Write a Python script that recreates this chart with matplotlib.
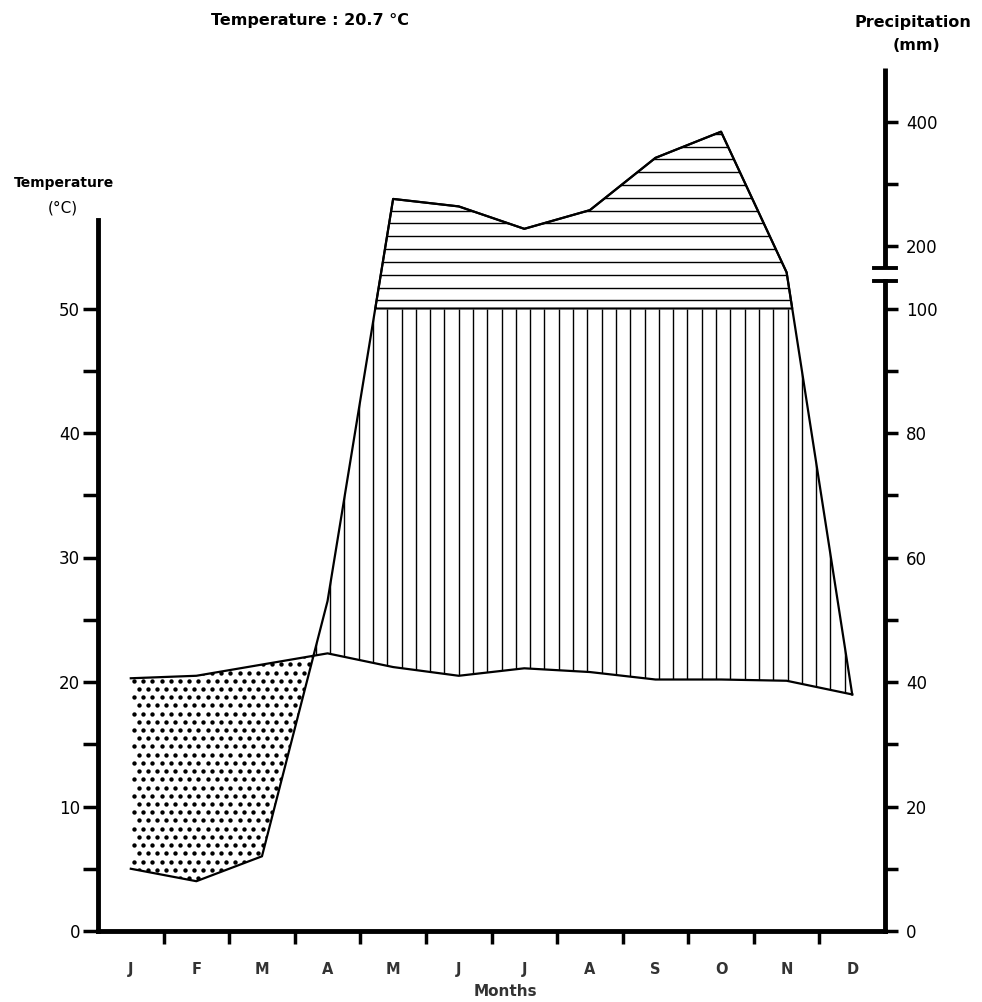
# Climate diagram (Walter-Lieth style): monthly temperature and precipitation
import numpy as np
import matplotlib
matplotlib.use('Agg')
import matplotlib.pyplot as plt

months = ['J', 'F', 'M', 'A', 'M', 'J', 'J', 'A', 'S', 'O', 'N', 'D']
temperature = [20.3, 20.5, 21.4, 22.3, 21.2, 20.5, 21.1, 20.8, 20.2, 20.2, 20.1, 19.0]
precipitation = [10, 8, 12, 53, 276, 264, 228, 258, 342, 384, 158, 38]
temp_ticks = [0, 10, 20, 30, 40, 50]
temp_minor = [5, 15, 25, 35, 45]
prec_ticks = [0, 20, 40, 60, 80, 100, 200, 400]
prec_minor = [10, 30, 50, 70, 90, 300]
mean_temp = '20.7'


def prec_to_temp(p):
    # 20 mm = 10 C up to 100 mm, above that 100 mm = 5 C
    p = np.asarray(p, dtype=float)
    return np.where(p <= 100, p / 2.0, 50 + (p - 100) / 20.0)


fig = plt.figure(figsize=(9.82, 10.02), dpi=100)
ax = fig.add_axes([98 / 982, 71 / 1002, 787 / 982, 871.5 / 1002])
ax.set_xlim(0, 12)
ax.set_ylim(0, 70)

xm = np.arange(12) + 0.5
prec_t = prec_to_temp(precipitation)

# fine grid to build the shaded areas
xf = np.linspace(0.5, 11.5, 2201)
tf = np.interp(xf, xm, temperature)
pf = np.interp(xf, xm, prec_t)

dry = ax.fill_between(xf, pf, tf, where=tf > pf, interpolate=True,
                      facecolor='none', edgecolor='none')
wet = ax.fill_between(xf, tf, np.minimum(pf, 50), where=pf > tf, interpolate=True,
                      facecolor='none', edgecolor='none')
very_wet = ax.fill_between(xf, 50, pf, where=pf > 50, interpolate=True,
                           facecolor='none', edgecolor='k', linewidth=1.5)

# dotted dry season
dx, dy = 0.14, 0.66
pts_x, pts_y = [], []
for i, yy in enumerate(np.arange(0.3, 26, dy)):
    off = dx / 2 if i % 2 else 0
    for xx in np.arange(0.55 + off, 3.6, dx):
        pts_x.append(xx)
        pts_y.append(yy)
dots = ax.scatter(pts_x, pts_y, s=10, color='k', linewidths=0)
dots.set_clip_path(dry.get_paths()[0], ax.transData)

# vertical hatching for the humid season
vl = ax.vlines(np.arange(0.05, 12, 0.218), 0, 50, color='k', linewidth=1.0)
vl.set_clip_path(wet.get_paths()[0], ax.transData)

# horizontal hatching above 100 mm
hl = ax.hlines(np.arange(50.65, 70, 1.03), 0, 12, color='k', linewidth=1.0)
hl.set_clip_path(very_wet.get_paths()[0], ax.transData)

ax.plot(xm, temperature, color='k', linewidth=1.6)
ax.plot(xm, prec_t, color='k', linewidth=1.6)

# left (temperature) axis
ax.spines['top'].set_visible(False)
ax.spines['right'].set_visible(False)
ax.spines['left'].set_bounds(0, 57.1)
for s in ['left', 'bottom']:
    ax.spines[s].set_linewidth(3.5)
    ax.spines[s].set_capstyle('projecting')

ax.set_yticks(temp_ticks)
ax.set_yticks(temp_minor, minor=True)
ax.tick_params(axis='y', which='both', direction='out', length=11, width=2.5,
               labelsize=12, pad=2)

ax.set_xticks(range(1, 12))
ax.set_xticklabels([])
ax.set_xticks(xm, minor=True)
ax.set_xticklabels(months, minor=True)
ax.tick_params(axis='x', which='major', direction='out', length=9, width=2.5)
ax.tick_params(axis='x', which='minor', length=0, pad=22, labelsize=10.5,
               labelcolor='#333333')
for lab in ax.get_xticklabels(minor=True):
    lab.set_fontweight('bold')

# right (precipitation) axis
ax2 = ax.twinx()
ax2.set_ylim(0, 70)
for s in ['top', 'left', 'bottom']:
    ax2.spines[s].set_visible(False)
ax2.spines['right'].set_bounds(0, 52.2)
ax2.spines['right'].set_linewidth(3.5)
ax2.set_yticks(prec_to_temp(prec_ticks))
ax2.set_yticklabels([str(p) for p in prec_ticks])
ax2.set_yticks(prec_to_temp(prec_minor), minor=True)
ax2.tick_params(axis='y', which='both', direction='out', length=9, width=2.5,
                labelsize=12, pad=6)

# upper part of the broken axis and the break marks
ax.plot([12, 12], [53.25, 69.3], color='k', linewidth=3.5, clip_on=False,
        solid_capstyle='butt')
ax.plot([11.83, 12.17], [52.2, 52.2], color='k', linewidth=2.8, clip_on=False)
ax.plot([11.83, 12.17], [53.25, 53.25], color='k', linewidth=2.8, clip_on=False)

# texts
fig.text(310 / 982, 1 - 20 / 1002, 'Temperature : ' + mean_temp + ' °C',
         ha='center', va='center', fontsize=11.5, fontweight='bold')
fig.text(913 / 982, 1 - 22 / 1002, 'Precipitation', ha='center', va='center',
         fontsize=11.5, fontweight='bold')
fig.text(917 / 982, 1 - 45 / 1002, '(mm)', ha='center', va='center',
         fontsize=11.5, fontweight='bold')
fig.text(64 / 982, 1 - 183 / 1002, 'Temperature', ha='center', va='center',
         fontsize=10, fontweight='bold')
fig.text(63 / 982, 1 - 208 / 1002, '(°C)', ha='center', va='center', fontsize=11)
fig.text(505 / 982, 1 - 992 / 1002, 'Months', ha='center', va='center',
         fontsize=11, fontweight='bold', color='#333333')

fig.savefig('out.png', dpi=100)
